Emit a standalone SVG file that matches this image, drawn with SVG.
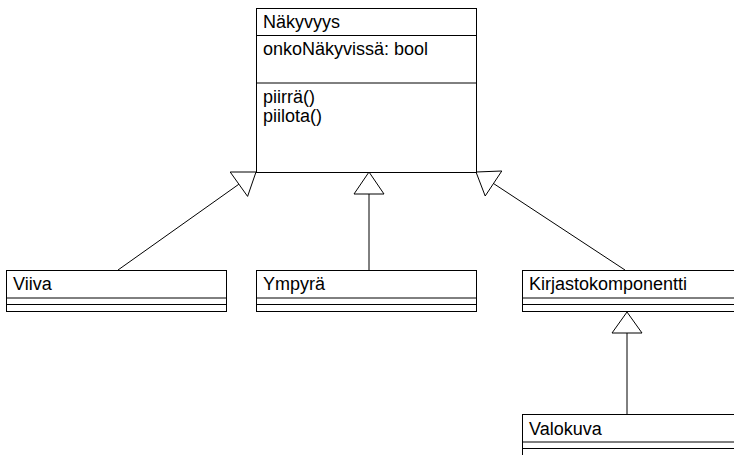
<svg xmlns="http://www.w3.org/2000/svg" width="734" height="455" viewBox="0 0 734 455">
  <style>
    .box { fill: #ffffff; stroke: #000000; stroke-width: 1; }
    .sep { stroke: #000000; stroke-width: 1; fill: none; }
    .edge { stroke: #000000; stroke-width: 1; fill: none; }
    .head { fill: #ffffff; stroke: #000000; stroke-width: 1; }
    text { font-family: "Liberation Sans", Arial, sans-serif; font-size: 18px; fill: #000000; }
  </style>
  <rect width="734" height="455" fill="#ffffff"/>

  <!-- generalisation connectors -->
  <g id="connectors">
    <line class="edge" x1="118" y1="270" x2="238.9" y2="184.2"/>
    <polygon class="head" points="256,172 230.2,172 247.6,196.4"/>

    <line class="edge" x1="369" y1="270" x2="369" y2="194"/>
    <polygon class="head" points="369,172 354,194 384,194"/>

    <line class="edge" x1="625" y1="270" x2="493.5" y2="183.5"/>
    <polygon class="head" points="476,172 501.8,171 485.2,196"/>

    <line class="edge" x1="627" y1="414" x2="627" y2="333"/>
    <polygon class="head" points="627,312 612,333 642,333"/>
  </g>

  <!-- superclass -->
  <g id="nakyvyys">
    <rect class="box" x="256.5" y="8.5" width="220" height="164"/>
    <line class="sep" x1="256.5" y1="35.5" x2="476.5" y2="35.5"/>
    <line class="sep" x1="256.5" y1="83" x2="476.5" y2="83"/>
    <text x="263" y="28">Näkyvyys</text>
    <text x="263" y="55">onkoNäkyvissä: bool</text>
    <text x="263" y="103">piirrä()</text>
    <text x="263" y="122">piilota()</text>
  </g>

  <g id="viiva">
    <rect class="box" x="6.5" y="270.5" width="220" height="41"/>
    <line class="sep" x1="6.5" y1="298" x2="226.5" y2="298"/>
    <line class="sep" x1="6.5" y1="304.5" x2="226.5" y2="304.5"/>
    <text x="13" y="290">Viiva</text>
  </g>

  <g id="ympyra">
    <rect class="box" x="256.5" y="270.5" width="220" height="41"/>
    <line class="sep" x1="256.5" y1="298" x2="476.5" y2="298"/>
    <line class="sep" x1="256.5" y1="304.5" x2="476.5" y2="304.5"/>
    <text x="263" y="290">Ympyrä</text>
  </g>

  <g id="kirjastokomponentti">
    <rect class="box" x="522.5" y="270.5" width="220" height="41"/>
    <line class="sep" x1="522.5" y1="298" x2="742.5" y2="298"/>
    <line class="sep" x1="522.5" y1="304.5" x2="742.5" y2="304.5"/>
    <text x="529" y="290">Kirjastokomponentti</text>
  </g>

  <g id="valokuva">
    <rect class="box" x="522.5" y="414.5" width="220" height="41"/>
    <line class="sep" x1="522.5" y1="442" x2="742.5" y2="442"/>
    <line class="sep" x1="522.5" y1="448.5" x2="742.5" y2="448.5"/>
    <text x="529" y="435">Valokuva</text>
  </g>
</svg>
